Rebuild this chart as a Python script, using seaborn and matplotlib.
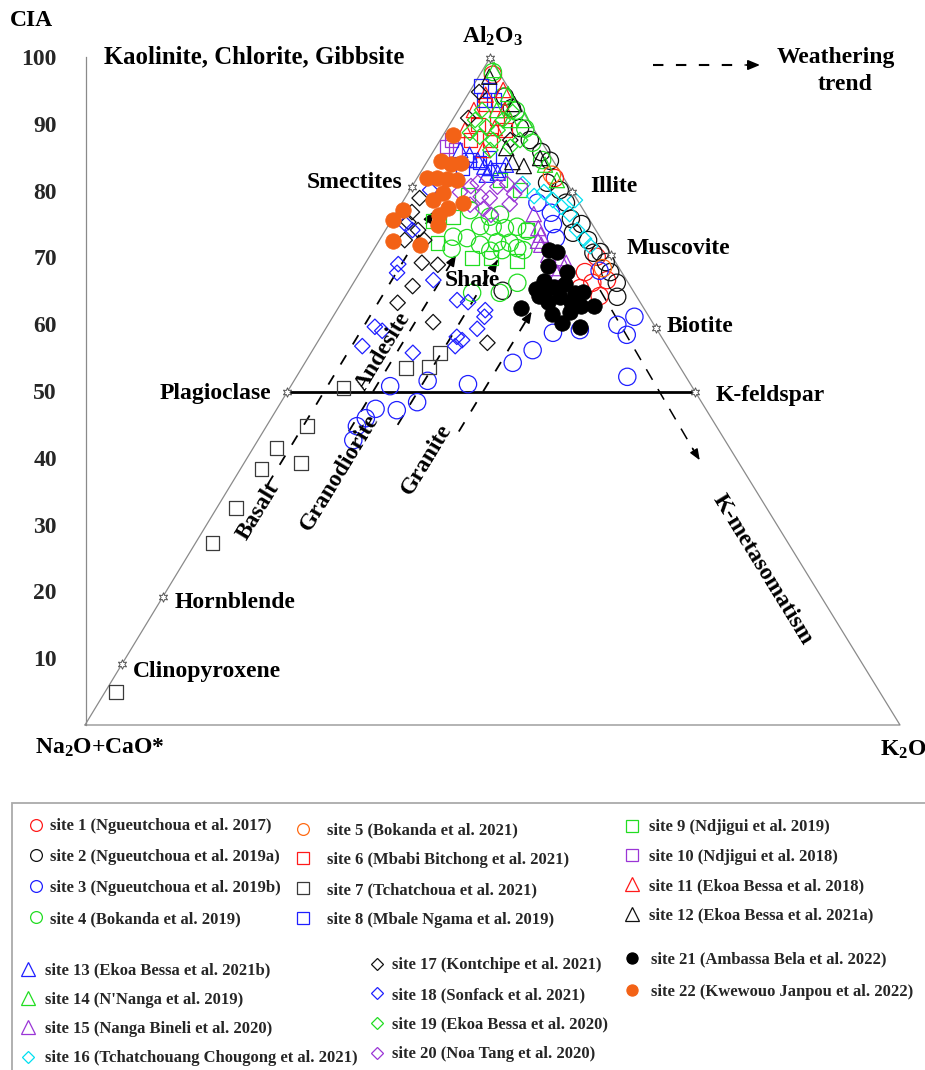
import numpy as np
import pandas as pd
import matplotlib
matplotlib.use("Agg")
import matplotlib.pyplot as plt
import seaborn as sns
from matplotlib.lines import Line2D
from matplotlib.patches import Rectangle
from matplotlib.font_manager import FontProperties

sns.set_theme(style="white")
plt.rcParams["font.family"] = ["Liberation Serif", "DejaVu Serif"]
plt.rcParams["font.weight"] = "bold"
plt.rcParams["mathtext.default"] = "regular"

# ---------------- data: CIA (Al2O3 %) and K2O % per site ----------------
site1_cia = [97.5, 82.0, 70.2, 67.9, 66.3, 65.5, 66.7, 64.3]
site1_k = [1.6, 16.9, 27.9, 27.6, 29.3, 28.2, 30.9, 31.2]
site2_cia = [94.2, 92.5, 89.5, 87.7, 85.9, 84.6, 81.3, 80.2, 78.3, 75.9, 73.8, 75.1, 72.7, 70.8, 69.4, 67.9, 66.3, 64.2, 70.9, 65.1]
site2_k = [4.7, 6.4, 8.9, 11.0, 13.3, 15.0, 16.3, 18.4, 20.1, 21.9, 23.2, 23.6, 25.6, 27.2, 29.4, 30.7, 32.3, 33.4, 28.0, 18.9]
site3_cia = [42.7, 44.8, 46.0, 47.4, 47.2, 48.4, 50.8, 51.6, 51.1, 54.3, 56.2, 58.8, 59.2, 60.0, 61.2, 58.5, 52.2, 78.3, 76.8, 75.1, 73.0, 68.1]
site3_k = [11.7, 11.1, 11.6, 12.1, 14.8, 16.7, 12.2, 16.4, 21.6, 25.5, 27.0, 28.2, 31.3, 35.5, 37.0, 37.4, 40.6, 16.6, 19.0, 20.1, 21.5, 29.3]
site4_cia = [77.2, 74.8, 74.7, 74.5, 74.7, 74.1, 73.2, 73.0, 72.0, 72.4, 72.3, 71.2, 71.4, 71.1, 71.2, 71.5, 76.2, 76.5, 66.3, 64.8, 64.8, 97.9, 94.2, 92.1, 89.4, 87.3, 84.7]
site4_k = [8.9, 11.3, 12.9, 14.5, 15.9, 17.4, 8.8, 10.6, 12.7, 14.6, 16.2, 18.4, 9.5, 14.4, 15.8, 17.5, 11.8, 12.9, 20.1, 15.3, 18.7, 1.4, 4.5, 7.1, 9.6, 11.5, 14.0]
site5_cia = [68.5, 82.5]
site5_k = [29.5, 16.3]
site6_cia = [93.0, 90.0, 91.0, 87.7, 87.7, 89.2]
site6_k = [2.9, 3.5, 5.3, 3.7, 6.1, 7.2]
site7_cia = [4.95, 27.3, 32.5, 38.4, 41.5, 39.3, 44.8, 50.5, 53.5, 53.7, 55.8]
site7_k = [1.35, 2.1, 2.4, 2.6, 2.9, 7.0, 5.0, 6.6, 12.8, 15.5, 15.8]
site8_cia = [95.8, 95.2, 93.7, 93.7, 84.7, 84.3, 85.0, 83.2, 83.5]
site8_k = [1.0, 2.3, 2.4, 3.6, 5.0, 6.5, 7.4, 9.3, 4.8]
site9_cia = [75.6, 72.3, 76.2, 70.0, 70.0, 69.6, 74.2, 79.5, 81.7, 80.2]
site9_k = [5.1, 7.3, 7.3, 12.7, 15.0, 18.4, 17.4, 7.5, 10.3, 13.5]
site10_cia = [87.7, 86.2, 86.7]
site10_k = [1.4, 2.6, 1.3]
site11_cia = [92.2, 94.5, 89.2, 89.5, 86.2, 92.2, 95.2]
site11_k = [1.9, 2.2, 2.3, 5.8, 6.0, 5.7, 4.0]
site12_cia = [84.4, 83.8, 85.0, 86.5, 97.2, 93.1]
site12_k = [10.5, 12.2, 13.6, 8.7, 1.3, 6.4]
site13_cia = [86.2, 85.5, 84.7, 83.7, 83.5, 82.8, 84.0, 82.5]
site13_k = [3.2, 4.7, 6.1, 7.4, 8.3, 9.5, 9.9, 8.3]
site14_cia = [98.2, 94.6, 90.7, 90.7, 84.0, 81.7, 92.2]
site14_k = [1.4, 4.9, 7.1, 8.9, 14.7, 17.3, 4.7]
site15_cia = [76.6, 74.5, 73.5, 72.6, 72.0, 70.0, 69.3, 68.5, 67.8, 70.5]
site15_k = [17.0, 18.6, 19.4, 19.5, 20.2, 23.5, 24.6, 23.5, 24.3, 21.8]
site16_cia = [81.1, 79.3, 79.9, 78.7, 77.7, 76.6, 74.2, 72.9, 71.8, 78.7]
site16_k = [13.4, 15.7, 16.6, 18.3, 19.8, 21.4, 23.5, 25.0, 26.3, 21.0]
site17_cia = [94.9, 91.0, 79.0, 76.9, 75.4, 74.2, 72.7, 72.7, 69.3, 69.0, 65.8, 63.3, 60.4, 57.3, 87.7]
site17_k = [1.2, 1.8, 1.8, 1.9, 2.2, 4.0, 5.5, 3.1, 6.9, 9.0, 7.5, 6.9, 12.7, 20.9, 8.6]
site18_cia = [69.1, 67.8, 66.7, 63.7, 63.4, 62.2, 61.2, 59.4, 58.2, 57.7, 56.8, 55.8, 59.7, 59.1, 56.8, 75.1, 74.2, 80.2]
site18_k = [4.1, 4.6, 9.6, 14.0, 15.5, 18.2, 18.6, 18.6, 16.7, 17.6, 17.2, 12.5, 5.9, 7.1, 5.8, 2.0, 3.3, 2.5]
site19_cia = [92.2, 89.7, 89.2, 88.2, 87.7, 86.7, 91.9, 88.8, 90.7, 87.7, 86.2, 90.7]
site19_k = [2.9, 4.7, 6.3, 4.6, 6.5, 9.1, 6.8, 3.1, 6.2, 9.8, 6.9, 2.8]
site20_cia = [79.9, 80.8, 79.2, 79.0, 80.7, 81.1, 79.6, 78.1, 77.4, 76.5, 80.8, 81.3, 78.0]
site20_k = [6.3, 7.2, 9.2, 10.4, 10.5, 11.5, 13.1, 13.3, 10.4, 11.8, 13.3, 7.8, 8.5]
site21_cia = [71.2, 70.9, 68.8, 66.6, 65.4, 65.7, 66.1, 67.9, 64.2, 63.4, 64.3, 62.5, 61.6, 63.4, 62.8, 62.8, 64.9, 61.9, 60.3, 59.7, 64.9, 64.8]
site21_k = [21.5, 22.7, 22.6, 23.2, 22.8, 24.9, 26.0, 25.4, 26.4, 25.3, 23.8, 22.4, 26.7, 28.1, 29.7, 31.3, 28.9, 28.7, 28.6, 31.1, 24.2, 27.9]
site22_cia = [88.5, 84.6, 84.1, 84.3, 82.0, 82.0, 81.9, 81.7, 79.8, 78.7, 78.3, 77.2, 77.5, 76.5, 75.7, 75.0, 72.6, 72.0]
site22_k = [1.2, 1.6, 3.1, 4.2, 1.2, 2.4, 3.7, 5.0, 4.3, 3.6, 7.5, 0.7, 6.0, 5.4, 0.2, 6.0, 1.7, 5.3]

site_labels = [
    "site 1 (Ngueutchoua et al. 2017)", "site 2 (Ngueutchoua et al. 2019a)",
    "site 3 (Ngueutchoua et al. 2019b)", "site 4 (Bokanda et al. 2019)",
    "site 5 (Bokanda et al. 2021)", "site 6 (Mbabi Bitchong et al. 2021)",
    "site 7 (Tchatchoua et al. 2021)", "site 8 (Mbale Ngama et al. 2019)",
    "site 9 (Ndjigui et al. 2019)", "site 10 (Ndjigui et al. 2018)",
    "site 11 (Ekoa Bessa et al. 2018)", "site 12 (Ekoa Bessa et al. 2021a)",
    "site 13 (Ekoa Bessa et al. 2021b)", "site 14 (N'Nanga et al. 2019)",
    "site 15 (Nanga Bineli et al. 2020)", "site 16 (Tchatchouang Chougong et al. 2021)",
    "site 17 (Kontchipe et al. 2021)", "site 18 (Sonfack et al. 2021)",
    "site 19 (Ekoa Bessa et al. 2020)", "site 20 (Noa Tang et al. 2020)",
    "site 21 (Ambassa Bela et al. 2022)", "site 22 (Kwewouo Janpou et al. 2022)",
]
site_cia = [site1_cia, site2_cia, site3_cia, site4_cia, site5_cia, site6_cia, site7_cia, site8_cia,
            site9_cia, site10_cia, site11_cia, site12_cia, site13_cia, site14_cia, site15_cia,
            site16_cia, site17_cia, site18_cia, site19_cia, site20_cia, site21_cia, site22_cia]
site_k = [site1_k, site2_k, site3_k, site4_k, site5_k, site6_k, site7_k, site8_k,
          site9_k, site10_k, site11_k, site12_k, site13_k, site14_k, site15_k,
          site16_k, site17_k, site18_k, site19_k, site20_k, site21_k, site22_k]

RED, BLK, BLU, GRN, ORG = "#ff1a1a", "#111111", "#1f1fff", "#22dd22", "#ff6a13"
PUR, CYA, GRY = "#9a35d6", "#00e0f0", "#3a3a3a"
# marker, colour, filled
styles = [
    ("o", RED, False), ("o", BLK, False), ("o", BLU, False), ("o", GRN, False),
    ("o", ORG, False), ("s", RED, False), ("s", GRY, False), ("s", BLU, False),
    ("s", GRN, False), ("s", PUR, False), ("^", RED, False), ("^", BLK, False),
    ("^", BLU, False), ("^", GRN, False), ("^", PUR, False), ("D", CYA, False),
    ("D", BLK, False), ("D", BLU, False), ("D", GRN, False), ("D", PUR, False),
    ("o", "#000000", True), ("o", "#f36216", True),
]
msize = {"o": 155, "s": 95, "^": 120, "D": 62}

# ---------------- figure / ternary frame ----------------
W, H = 925, 1070
fig = plt.figure(figsize=(W / 100, H / 100), dpi=100)
ax = fig.add_axes([0, 0, 1, 1])
T = 405 / 815  # horizontal position of Al2O3 apex


def proj(cia, k):
    cia = np.asarray(cia, float)
    k = np.asarray(k, float)
    return (k + T * cia) / 100.0, cia / 100.0


def P(px, py):  # annotation positions given in figure pixels
    return (px - 85) / 815, (725 - py) / 667


ax.set_xlim(-85 / 815, 840 / 815)
ax.set_ylim(-345 / 667, 725 / 667)
ax.axis("off")

tx, ty = proj([0, 100, 0, 0], [0, 0, 100, 0])
ax.plot(tx, ty, color="#8a8a8a", lw=0.9, zorder=1)

# feldspar join
fx, fy = proj([50, 50], [0, 50])
ax.plot(fx, fy, color="black", lw=2.0, zorder=2)

# weathering trend lines (constant K2O)
trend_k = [4.5, 10.5, 16.0, 24.0]
trend_a0 = [36, 44, 45, 44]
trend_a1 = [77, 70.5, 69.7, 62.0]
for k, a0, a1 in zip(trend_k, trend_a0, trend_a1):
    lx, ly = proj([a0, a1], [k, k])
    ax.plot(lx, ly, color="black", lw=1.3, dashes=(6, 7), zorder=2)
    hx, hy = proj([a1 - 1.2, a1], [k, k])
    ax.annotate("", xy=(hx[1], hy[1]), xytext=(hx[0], hy[0]),
                arrowprops=dict(arrowstyle="-|>,head_length=0.55,head_width=0.22",
                                color="black", lw=1.2, shrinkA=0, shrinkB=0), zorder=2)

# K-metasomatism trend
mx, my = proj([65.2, 41.0], [30.8, 54.4])
ax.plot(mx, my, color="black", lw=1.1, dashes=(8, 7), zorder=2)
hx, hy = proj([41.5, 39.7], [53.9, 55.7])
ax.annotate("", xy=(hx[1], hy[1]), xytext=(hx[0], hy[0]),
            arrowprops=dict(arrowstyle="-|>,head_length=0.55,head_width=0.22",
                            color="black", lw=1.0, shrinkA=0, shrinkB=0))

# ---------------- data points ----------------
rows = []
for i, (c, k) in enumerate(zip(site_cia, site_k)):
    for a, b in zip(c, k):
        rows.append((i, a, b))
df = pd.DataFrame(rows, columns=["site", "cia", "k2o"])
df["x"], df["y"] = proj(df["cia"], df["k2o"])

for i, (m, col, filled) in enumerate(styles):
    sub = df[df["site"] == i]
    if filled:
        sns.scatterplot(data=sub, x="x", y="y", ax=ax, marker=m, s=125,
                        color=col, edgecolor=col, linewidth=0.5, legend=False, zorder=4)
    else:
        sns.scatterplot(data=sub, x="x", y="y", ax=ax, marker=m, s=msize[m],
                        facecolor="none", edgecolor=col, linewidth=0.9, legend=False, zorder=3)
ax.set_xlim(-85 / 815, 840 / 815)
ax.set_ylim(-345 / 667, 725 / 667)
ax.set_xlabel("")
ax.set_ylabel("")

# mineral reference stars
star_cia = [100, 80.7, 50, 19.2, 9.1, 79.9, 70.4, 59.5, 50]
star_k = [0, 0, 0, 0, 0, 20.1, 29.6, 40.5, 50]
sx, sy = proj(star_cia, star_k)
ax.scatter(sx, sy, marker=(6, 1, 0), s=45, facecolor="white", edgecolor="#555555",
           linewidth=0.7, zorder=5)

# ---------------- labels ----------------
LF = 17
def lab(px, py, s, ha="left", rot=0, size=LF, va="center"):
    x, y = P(px, py)
    ax.text(x, y, s, ha=ha, va=va, rotation=rot, rotation_mode="anchor",
            fontsize=size, fontweight="bold", color="black", zorder=6)

lab(492, 36, "Al$_2$O$_3$", ha="center")
lab(104, 57, "Kaolinite, Chlorite, Gibbsite", size=17.8)
lab(402, 183, "Smectites", ha="right")
lab(590, 187, "Illite")
lab(627, 248, "Muscovite")
lab(667, 326, "Biotite")
lab(716, 395, "K-feldspar")
lab(271, 393, "Plagioclase", ha="right")
lab(175, 603, "Hornblende")
lab(133, 672, "Clinopyroxene")
lab(35, 748, "Na$_2$O+CaO*")
lab(880, 750, "K$_2$O")
lab(472, 280, "Shale", ha="center")
lab(258, 511, "Basalt", ha="center", rot=58.7)
lab(383, 352, "Andesite", ha="center", rot=58.7)
lab(340, 472, "Granodiorite", ha="center", rot=58.7)
lab(427, 459, "Granite", ha="center", rot=58.7)
lab(763, 570, "K-metasomatism", ha="center", rot=-58.4)
lab(836, 58, "Weathering", ha="center")
lab(845, 84, "trend", ha="center")
lab(10, 20, "CIA")

# weathering trend key
a0 = P(653, 65)
a1 = P(745, 65)
a2 = P(760, 65)
ax.plot([a0[0], a1[0]], [a0[1], a1[1]], color="black", lw=1.5, dashes=(5, 6))
ax.annotate("", xy=a2, xytext=(a1[0] + 0.001, a1[1]),
            arrowprops=dict(arrowstyle="-|>,head_length=0.6,head_width=0.25",
                            color="black", lw=1.2, shrinkA=0, shrinkB=0))

# ---------------- CIA scale ----------------
cax = fig.add_axes([86 / W, (H - 725) / H, 0.01, 668 / H])
cax.set_ylim(0, 100)
cax.patch.set_alpha(0)
for sp in ["right", "top", "bottom"]:
    cax.spines[sp].set_visible(False)
cax.spines["left"].set_color("#8a8a8a")
cax.spines["left"].set_linewidth(0.9)
cax.set_xticks([])
cax.set_yticks(np.arange(10, 101, 10))
cax.set_yticks(np.arange(2, 100, 2), minor=True)
cax.tick_params(axis="y", which="major", direction="out", length=17, width=0.8,
                color="#8a8a8a", labelsize=17, pad=4)
cax.tick_params(axis="y", which="minor", direction="out", length=8, width=0.8,
                color="#8a8a8a")
for t in cax.get_yticklabels():
    t.set_fontweight("bold")

# ---------------- legend box ----------------
fig.patches.append(Rectangle((12 / W, -0.01), 1.0, (H - 803) / H + 0.01,
                             transform=fig.transFigure, fill=False,
                             edgecolor="#aaaaaa", lw=1.3))
LFS = 12
lp = FontProperties(family="Liberation Serif", weight="bold", size=LFS)


def handle(i):
    m, col, filled = styles[i]
    ms = {"o": 8.5, "s": 8, "^": 10, "D": 6.5}[m]
    if filled:
        ms = 8
    return Line2D([], [], linestyle="none", marker=m, markersize=ms,
                  markerfacecolor=col if filled else "none", markeredgecolor=col,
                  markeredgewidth=0.9)


# (entries, marker x, first-row y, row pitch, text x)  in pixels
groups = [
    (range(0, 4), 36, 826, 30.3, 50),
    (range(4, 8), 303, 830, 29.3, 327),
    (range(8, 12), 632, 827, 28.7, 649),
    (range(12, 16), 28, 970, 28.7, 45),
    (range(16, 20), 377, 965, 29.0, 392),
    (range(20, 22), 632, 959, 32.0, 651),
]
fs_px = LFS * 100 / 72
TH = 13.4 * LFS / 10.5
for idx, mxp, y0, pitch, txp in groups:
    hs = [handle(i) for i in idx]
    ls = [site_labels[i] for i in idx]
    fig.legend(hs, ls, loc="upper left",
               bbox_to_anchor=((mxp - fs_px / 2) / W, 1 - (y0 - TH / 2) / H),
               frameon=False, prop=lp, handlelength=1.0,
               handletextpad=(txp - mxp - fs_px / 2) / fs_px,
               labelspacing=(pitch - TH) / fs_px, borderpad=0, borderaxespad=0)

fig.savefig("out.png", dpi=100, facecolor="white")
